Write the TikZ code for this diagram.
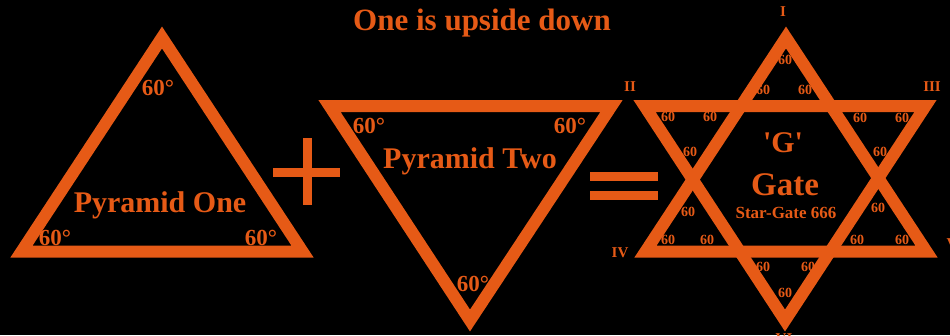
\documentclass[tikz,border=0pt]{standalone}
\usepackage{fontspec}
\setmainfont{Liberation Serif}
\usepackage{tikz}
\definecolor{staror}{HTML}{E65A16}
\tikzset{
  tri/.style={draw=staror, line width=12pt, line join=miter},
  bar/.style={draw=staror, line width=9pt},
  title/.style={text=staror, font=\fontsize{31}{33}\selectfont\bfseries, inner sep=0pt, anchor=base},
  pname/.style={text=staror, font=\fontsize{30}{32}\selectfont\bfseries, inner sep=0pt, anchor=base},
  deg/.style={text=staror, font=\fontsize{23}{25}\selectfont\bfseries, inner sep=0pt, anchor=base},
  sixty/.style={text=staror, font=\fontsize{14}{14}\selectfont\bfseries, inner sep=0pt},
  num/.style={text=staror, font=\fontsize{15}{15}\selectfont\bfseries, inner sep=0pt},
}

\begin{document}
\begin{tikzpicture}[x=1pt, y=-1pt]
  \path[use as bounding box, fill=black] (0,0) rectangle (950,335);
  \node[title] (head) at (482,30) {One is upside down};

  % ---- pyramid one ----
  \draw[tri] (162,37.5) -- (302.5,251.5) -- (21.5,251.5) -- cycle;
  \node[pname] (p1) at (160,212) {Pyramid One};
  \node[deg] (p1t) at (158,95) {60°};
  \node[deg] (p1l) at (55,245) {60°};
  \node[deg] (p1r) at (261,245) {60°};

  % ---- plus ----
  \draw[bar] (273,172) -- (340,172);
  \draw[bar] (307,138) -- (307,205);

  % ---- pyramid two ----
  \draw[tri] (329.5,106) -- (611.5,106) -- (470,320.5) -- cycle;
  \node[pname] (p2) at (470,168) {Pyramid Two};
  \node[deg] (p2l) at (369,133) {60°};
  \node[deg] (p2r) at (570,133) {60°};
  \node[deg] (p2b) at (473,291) {60°};

  % ---- equals ----
  \draw[bar] (590,176) -- (658,176);
  \draw[bar] (590,195) -- (658,195);

  % ---- star gate ----
  \draw[tri] (786,37.5) -- (926.5,251.5) -- (645.5,251.5) -- cycle;
  \draw[tri] (644.5,106) -- (925.5,106) -- (785,320.5) -- cycle;
  \node[pname] (g) at (783,152) {\textquotesingle G\textquotesingle};
  \node[pname, font=\fontsize{33}{35}\selectfont\bfseries] (gate) at (785,195) {Gate};
  \node[sixty, font=\fontsize{17}{17}\selectfont\bfseries] (sg) at (786,213) {Star-Gate 666};
  \foreach \x/\y [count=\i] in {785/60, 763/90, 805/90,
      668/117, 710/117, 690/152, 860/118, 902/118, 880/152,
      688/212, 668/240, 707/240, 878/208, 857/240, 902/240,
      763/267, 808/267, 785/293}
    \node[sixty] (s\i) at (\x,\y) {60};
  \foreach \t/\x/\y in {I/783/12, II/630/87, III/932/87, IV/620/253, V/952/244, VI/784/339}
    \node[num] (r\t) at (\x,\y) {\t};
\end{tikzpicture}
\end{document}
